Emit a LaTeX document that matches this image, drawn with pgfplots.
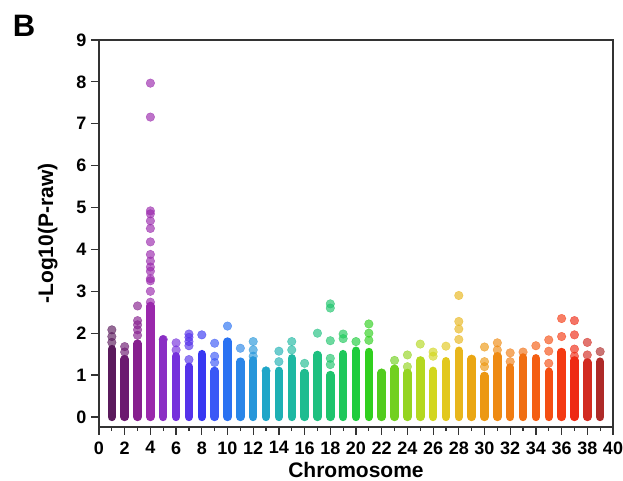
\documentclass[border=0pt]{standalone}
\usepackage{fontspec}
\setmainfont{Liberation Sans}
\usepackage{pgfplots}
\pgfplotsset{compat=1.18}
\definecolor{c1}{HTML}{5A1A5C}
\definecolor{c2}{HTML}{6C1A70}
\definecolor{c3}{HTML}{861F8E}
\definecolor{c4}{HTML}{9A28AC}
\definecolor{c5}{HTML}{8A2EC4}
\definecolor{c6}{HTML}{7530DC}
\definecolor{c7}{HTML}{5532EA}
\definecolor{c8}{HTML}{3838F2}
\definecolor{c9}{HTML}{3A58F6}
\definecolor{c10}{HTML}{2A72F2}
\definecolor{c11}{HTML}{2A86E8}
\definecolor{c12}{HTML}{2696DA}
\definecolor{c13}{HTML}{1EA6C8}
\definecolor{c14}{HTML}{1EB0B4}
\definecolor{c15}{HTML}{1EB8A2}
\definecolor{c16}{HTML}{1EBC90}
\definecolor{c17}{HTML}{1EC080}
\definecolor{c18}{HTML}{1EC46C}
\definecolor{c19}{HTML}{1EC85A}
\definecolor{c20}{HTML}{1ECC3C}
\definecolor{c21}{HTML}{30D01E}
\definecolor{c22}{HTML}{52CC1E}
\definecolor{c23}{HTML}{72D020}
\definecolor{c24}{HTML}{94D420}
\definecolor{c25}{HTML}{B4D820}
\definecolor{c26}{HTML}{D2D61E}
\definecolor{c27}{HTML}{E2C81E}
\definecolor{c28}{HTML}{E8B61C}
\definecolor{c29}{HTML}{EAA612}
\definecolor{c30}{HTML}{EC9812}
\definecolor{c31}{HTML}{EE8A12}
\definecolor{c32}{HTML}{F07C12}
\definecolor{c33}{HTML}{F06E12}
\definecolor{c34}{HTML}{F45E12}
\definecolor{c35}{HTML}{F44E12}
\definecolor{c36}{HTML}{F43A12}
\definecolor{c37}{HTML}{EE2A14}
\definecolor{c38}{HTML}{D22A20}
\definecolor{c39}{HTML}{AE2A28}
\newcommand\chr[4]{%
  \addplot[line width=8.5pt, line cap=round, color=#2, forget plot] coordinates {(#1,0) (#1,#3)};
  \addplot[only marks, mark=*, mark size=4.3pt, color=#2, mark options={fill opacity=0.65, draw opacity=0.65}, forget plot] coordinates {#4};
}
\begin{document}
\begin{tikzpicture}
\useasboundingbox (-99pt,-54pt) rectangle (524pt,427pt);
\node[font=\fontsize{31}{31}\selectfont\bfseries] at (-75pt,401pt) {B};
\begin{axis}[
  at={(0pt,0pt)}, anchor=south west,
  width=514pt, height=387pt, scale only axis=true,
  xmin=0, xmax=40, ymin=-0.24, ymax=9,
  xtick={0,2,...,40}, minor xtick={1,3,...,39},
  ytick={0,1,...,9},
  xtick pos=left, ytick pos=left, tick align=outside,
  major tick length=8pt, minor tick length=4pt,
  tick style={line width=1.2pt, color=black!80},
  axis line style={line width=1.3pt, color=black!80},
  /pgf/number format/assume math mode=true,
  tick label style={font=\fontsize{18}{18}\selectfont\bfseries},
  xticklabel style={yshift=-3pt},
  yticklabel style={xshift=-1pt},
  xlabel={Chromosome}, ylabel={-Log10(P-raw)},
  label style={font=\fontsize{21}{21}\selectfont\bfseries},
  xlabel style={yshift=-1pt},
  ylabel style={yshift=12pt},
  clip=false,
]
\chr{1}{c1}{1.62}{(1,1.78)(1,1.92)(1,2.08)}
\chr{2}{c2}{1.38}{(2,1.55)(2,1.68)}
\chr{3}{c3}{1.75}{(3,1.95)(3,2.08)(3,2.2)(3,2.3)(3,2.65)}
\chr{4}{c4}{2.65}{(4,2.74)(4,3.0)(4,3.25)(4,3.3)(4,3.48)(4,3.58)(4,3.72)(4,3.88)(4,4.18)(4,4.5)(4,4.68)(4,4.85)(4,4.92)(4,7.16)(4,7.97)}
\chr{5}{c5}{1.85}{(5,1.85)}
\chr{6}{c6}{1.45}{(6,1.6)(6,1.77)}
\chr{7}{c7}{1.2}{(7,1.37)(7,1.7)(7,1.8)(7,1.9)(7,1.98)}
\chr{8}{c8}{1.5}{(8,1.96)}
\chr{9}{c9}{1.1}{(9,1.3)(9,1.45)(9,1.76)}
\chr{10}{c10}{1.8}{(10,2.17)}
\chr{11}{c11}{1.32}{(11,1.64)}
\chr{12}{c12}{1.35}{(12,1.45)(12,1.6)(12,1.8)}
\chr{13}{c13}{1.1}{(13,1.1)}
\chr{14}{c14}{1.1}{(14,1.32)(14,1.57)}
\chr{15}{c15}{1.4}{(15,1.6)(15,1.8)}
\chr{16}{c16}{1.05}{(16,1.28)}
\chr{17}{c17}{1.48}{(17,2.0)}
\chr{18}{c18}{1.0}{(18,1.25)(18,1.4)(18,1.82)(18,2.6)(18,2.7)}
\chr{19}{c19}{1.5}{(19,1.87)(19,1.98)}
\chr{20}{c20}{1.58}{(20,1.8)}
\chr{21}{c21}{1.55}{(21,1.83)(21,2.0)(21,2.22)}
\chr{22}{c22}{1.05}{(22,1.05)}
\chr{23}{c23}{1.15}{(23,1.35)}
\chr{24}{c24}{1.05}{(24,1.2)(24,1.48)}
\chr{25}{c25}{1.35}{(25,1.74)}
\chr{26}{c26}{1.1}{(26,1.45)(26,1.55)}
\chr{27}{c27}{1.33}{(27,1.69)}
\chr{28}{c28}{1.58}{(28,1.85)(28,2.1)(28,2.28)(28,2.9)}
\chr{29}{c29}{1.38}{(29,1.38)}
\chr{30}{c30}{0.98}{(30,1.2)(30,1.32)(30,1.67)}
\chr{31}{c31}{1.45}{(31,1.6)(31,1.77)}
\chr{32}{c32}{1.18}{(32,1.32)(32,1.53)}
\chr{33}{c33}{1.42}{(33,1.55)}
\chr{34}{c34}{1.4}{(34,1.7)}
\chr{35}{c35}{1.08}{(35,1.28)(35,1.57)(35,1.84)}
\chr{36}{c36}{1.55}{(36,1.92)(36,2.35)}
\chr{37}{c37}{1.35}{(37,1.45)(37,1.62)(37,1.96)(37,2.3)}
\chr{38}{c38}{1.3}{(38,1.48)(38,1.78)}
\chr{39}{c39}{1.32}{(39,1.56)}
\end{axis}
\end{tikzpicture}
\end{document}
